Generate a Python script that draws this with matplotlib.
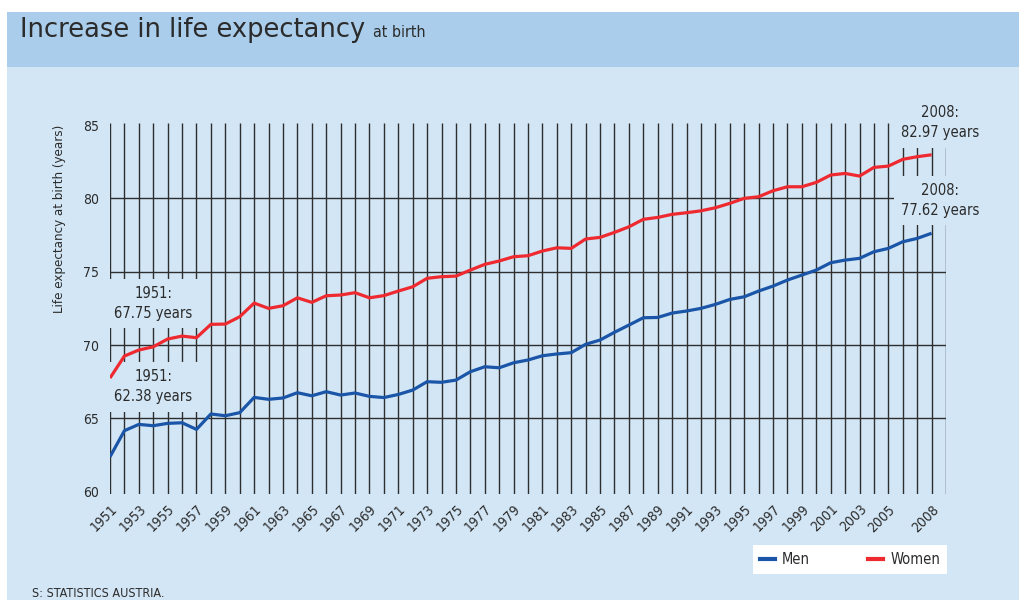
import matplotlib
matplotlib.use("Agg")
import matplotlib.pyplot as plt
from matplotlib.patches import Rectangle
from matplotlib.lines import Line2D
from matplotlib.font_manager import FontProperties

# life expectancy at birth, Austria 1951-2008
years = list(range(1951, 2009))
men = [62.38, 64.16, 64.59, 64.50, 64.66, 64.70, 64.25, 65.30, 65.18, 65.39,
       66.43, 66.30, 66.39, 66.75, 66.54, 66.82, 66.59, 66.73, 66.50, 66.42,
       66.63, 66.93, 67.50, 67.46, 67.61, 68.18, 68.52, 68.45, 68.79, 68.98,
       69.27, 69.39, 69.48, 70.05, 70.34, 70.87, 71.36, 71.86, 71.88, 72.18,
       72.32, 72.50, 72.77, 73.11, 73.29, 73.68, 74.02, 74.43, 74.77, 75.11,
       75.61, 75.79, 75.91, 76.36, 76.59, 77.04, 77.27, 77.62]
women = [67.75, 69.25, 69.66, 69.88, 70.41, 70.61, 70.50, 71.41, 71.43, 71.93,
         72.86, 72.50, 72.68, 73.22, 72.91, 73.36, 73.41, 73.57, 73.22, 73.37,
         73.68, 73.97, 74.55, 74.66, 74.70, 75.11, 75.50, 75.73, 76.02, 76.09,
         76.41, 76.63, 76.59, 77.23, 77.34, 77.68, 78.06, 78.57, 78.70, 78.91,
         79.02, 79.15, 79.36, 79.66, 80.00, 80.11, 80.52, 80.79, 80.79, 81.09,
         81.59, 81.70, 81.52, 82.11, 82.20, 82.66, 82.84, 82.97]
label_years = list(range(1951, 2006, 2)) + [2008]
y_ticks = [60, 65, 70, 75, 80, 85]
grid_y = [65, 70, 75, 80]

bg = '#d3e6f5'
band = '#a9cdeb'
txt = '#2b2b2b'
grid = '#2e2e2e'
c_men = '#1a55a8'
c_women = '#ee2a30'
nar = dict(family='DejaVu Sans', stretch='condensed')

fig = plt.figure(figsize=(10.2, 6), dpi=100)
fig.patch.set_facecolor('white')
fig.add_artist(Rectangle((7/1020, 0), 1, 588/600, transform=fig.transFigure,
                         fc=bg, ec='none', zorder=-10))
fig.add_artist(Rectangle((7/1020, 533/600), 1, 55/600, transform=fig.transFigure,
                         fc=band, ec='none', zorder=-9))

ax = fig.add_axes([110/1020, 0.1768, 836/1020, 0.6185])
ax.set_facecolor('none')
for s in ax.spines.values():
    s.set_visible(False)
ax.set_xlim(1951, 2009)
ax.set_ylim(59.85, 85.15)

# grid: a line for every year, horizontals every 5 years of life expectancy
ax.vlines(range(1951, 2010), 59.85, 85.15, color=grid, lw=1.0, zorder=1)
ax.hlines(grid_y, 1951, 2009, color=grid, lw=1.0, zorder=1)

ax.plot(years, men, color=c_men, lw=2.3, zorder=4, solid_capstyle='butt')
ax.plot(years, women, color=c_women, lw=2.3, zorder=4, solid_capstyle='butt')

ax.set_yticks(y_ticks)
ax.set_yticklabels([str(v) for v in y_ticks], fontsize=10, color=txt, **nar)
ax.set_xticks(label_years)
ax.set_xticklabels([str(y) for y in label_years], fontsize=10, color=txt,
                   rotation=45, ha='right', va='top', rotation_mode='anchor', **nar)
ax.tick_params(length=0)
ax.tick_params(axis='x', pad=6)
ax.tick_params(axis='y', pad=8)
ax.set_ylabel('Life expectancy at birth (years)', fontsize=9.5, color=txt, **nar)
ax.yaxis.set_label_coords(-0.053, 0.74)

# annotations, boxes in background colour hide the grid behind them
box = dict(boxstyle='square,pad=0.5', fc=bg, ec='none')
ax.text(1954, 72.82, '1951:\n%.2f years' % women[0], ha='center', va='center',
        fontsize=10.5, color=txt, bbox=box, zorder=2, linespacing=1.4, **nar)
ax.text(1954, 67.15, '1951:\n%.2f years' % men[0], ha='center', va='center',
        fontsize=10.5, color=txt, bbox=box, zorder=2, linespacing=1.4, **nar)
ax.text(2008.6, 85.15, '2008:\n%.2f years' % women[-1], ha='center', va='center',
        fontsize=10.5, color=txt, bbox=box, zorder=2, linespacing=1.4,
        clip_on=False, **nar)
ax.text(2008.6, 79.84, '2008:\n%.2f years' % men[-1], ha='center', va='center',
        fontsize=10.5, color=txt, bbox=box, zorder=2, linespacing=1.4, **nar)

# title
t1 = fig.text(20/1020, 1 - 37/600, 'Increase in life expectancy', family='DejaVu Sans',
              fontsize=18.5, color=txt, va='baseline')
fig.canvas.draw()
ext = t1.get_window_extent()
fig.text((ext.x1 + 8)/1020, 1 - 37/600, 'at birth', fontsize=11.5,
         color=txt, va='baseline', **nar)

fig.text(32/1020, 1 - 597/600, 'S: STATISTICS AUSTRIA.', fontsize=9,
         color=txt, va='baseline', **nar)

handles = [Line2D([], [], color=c_men, lw=3), Line2D([], [], color=c_women, lw=3)]
leg = fig.legend(handles, ['Men', 'Women'], loc='center', ncol=2,
                 bbox_to_anchor=(850/1020, 1 - 559.5/600), frameon=True, fancybox=False,
                 prop=FontProperties(size=10.5, **nar), handlelength=1.0,
                 handletextpad=0.5, columnspacing=4.0, borderpad=0.5)
leg.get_frame().set_facecolor('white')
leg.get_frame().set_edgecolor('none')
leg.get_frame().set_alpha(1)
for t in leg.get_texts():
    t.set_color(txt)

fig.savefig('out.png', dpi=100)
